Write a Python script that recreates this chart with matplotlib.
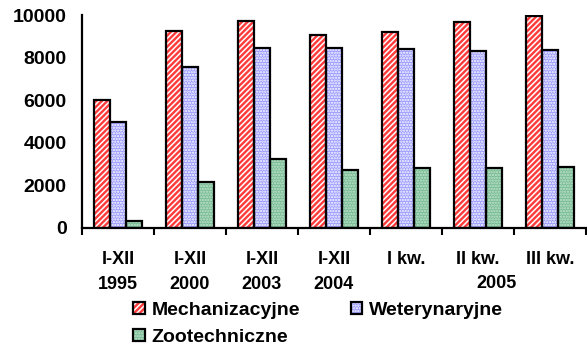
import matplotlib
matplotlib.use("Agg")
import matplotlib.pyplot as plt
import numpy as np
from matplotlib.legend_handler import HandlerTuple
from matplotlib.patches import Patch
from matplotlib.ticker import FixedLocator, NullFormatter
import matplotlib.transforms as mtrans

categories = ["I-XII\n1995", "I-XII\n2000", "I-XII\n2003", "I-XII\n2004", "I kw.", "II kw.", "III kw."]
group_label = "2005"
series_names = ["Mechanizacyjne", "Weterynaryjne", "Zootechniczne"]
mechanizacyjne = [6000, 9260, 9730, 9060, 9200, 9660, 9970]
weterynaryjne = [5000, 7570, 8440, 8460, 8390, 8330, 8340]
zootechniczne = [350, 2160, 3250, 2740, 2820, 2820, 2880]
yticks = [0, 2000, 4000, 6000, 8000, 10000]

plt.rcParams['font.family'] = ['Liberation Sans', 'DejaVu Sans']
plt.rcParams['font.weight'] = 'bold'
plt.rcParams['hatch.linewidth'] = 1.1

W, H = 587, 347
fig = plt.figure(figsize=(W / 100, H / 100), dpi=100)
ax = fig.add_axes([82 / W, 1 - 228 / H, (586 - 82) / W, (228 - 15) / H])

x = np.arange(len(categories))
bw = 0.222
styles = [
    dict(face='#FF3C3C', hatch='//////', hcol='white'),
    dict(face='#9A9AFF', hatch='......', hcol='white'),
    dict(face='#78BC94', hatch='......', hcol='#C4E4D0'),
]
data = [mechanizacyjne, weterynaryjne, zootechniczne]
handles = []
for i, (vals, st) in enumerate(zip(data, styles)):
    pos = x + (i - 1) * bw
    ax.bar(pos, vals, width=bw, color=st['face'], hatch=st['hatch'],
           edgecolor=st['hcol'], linewidth=0, zorder=2)
    ax.bar(pos, vals, width=bw, facecolor='none', edgecolor='black',
           linewidth=1.6, zorder=3)
    h1 = Patch(facecolor=st['face'], hatch=st['hatch'], edgecolor=st['hcol'], linewidth=0)
    h2 = Patch(facecolor='none', edgecolor='black', linewidth=1.6)
    handles.append((h1, h2))

ax.set_xlim(-0.5, len(categories) - 0.5)
ax.set_ylim(0, 10000)
ax.set_yticks(yticks)
ax.set_yticklabels([str(v) for v in yticks], fontsize=14, fontweight='bold')
ax.tick_params(axis='y', length=0, pad=11)

ax.xaxis.set_major_locator(FixedLocator(np.arange(-0.5, len(categories), 1.0)))
ax.xaxis.set_major_formatter(NullFormatter())
ax.set_xticks(x, minor=True)
ax.set_xticklabels(categories, minor=True, fontsize=13, fontweight='bold', linespacing=1.6)
ax.tick_params(axis='x', which='major', length=5, width=1.5, direction='out')
ax.tick_params(axis='x', which='minor', length=0, pad=16.5)

for s in ['top', 'right']:
    ax.spines[s].set_visible(False)
for s in ['left', 'bottom']:
    ax.spines[s].set_linewidth(1.6)
    ax.spines[s].set_zorder(4)

trans = mtrans.blended_transform_factory(ax.transData, fig.transFigure)
ax.text(5.26, 1 - 283 / H, group_label, transform=trans, ha='center', va='center',
        fontsize=13, fontweight='bold')

order = [0, 2, 1]
leg = fig.legend([handles[i] for i in order], [series_names[i] for i in order],
                 handler_map={tuple: HandlerTuple(ndivide=1)},
                 ncol=2, loc='upper left', bbox_to_anchor=(133 / W, 1 - 302 / H),
                 frameon=False, borderpad=0, borderaxespad=0,
                 handlelength=0.6, handleheight=0.6, handletextpad=0.35,
                 labelspacing=0.5, columnspacing=2.6,
                 prop=dict(family=['Liberation Sans', 'DejaVu Sans'], weight='bold', size=14))

fig.savefig('out.png', dpi=100)
